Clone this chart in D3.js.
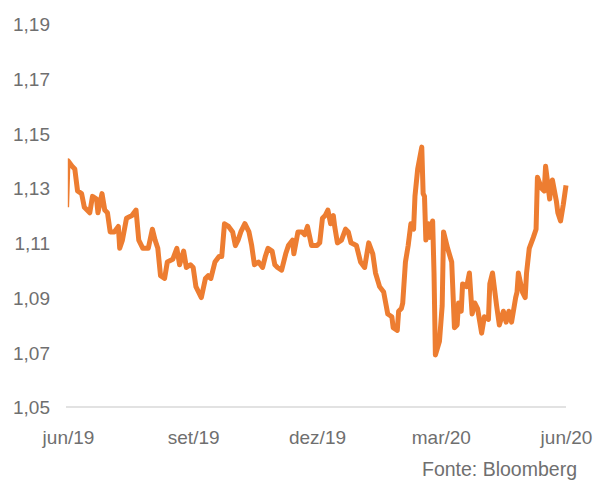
<!DOCTYPE html>
<html>
<head>
<meta charset="utf-8">
<script src="https://cdn.jsdelivr.net/npm/d3@7"></script>
<style>
  html, body { margin: 0; padding: 0; background: #fff; }
  svg { display: block; font-family: "Liberation Sans", Arial, Helvetica, sans-serif; }
</style>
</head>
<body>
<svg id="svg" width="597" height="482"></svg>
<script>
const dates = [
  "2019-05-31","2019-06-01","2019-06-04","2019-06-06","2019-06-08","2019-06-11","2019-06-13","2019-06-17",
  "2019-06-19","2019-06-22","2019-06-23","2019-06-26","2019-06-28","2019-06-30","2019-07-02","2019-07-05",
  "2019-07-08","2019-07-09","2019-07-11","2019-07-14","2019-07-18","2019-07-21","2019-07-23","2019-07-26",
  "2019-07-30","2019-08-02","2019-08-04","2019-08-06","2019-08-08","2019-08-11","2019-08-13","2019-08-17",
  "2019-08-20","2019-08-22","2019-08-25","2019-08-27","2019-08-30","2019-09-01","2019-09-03","2019-09-05",
  "2019-09-07","2019-09-10","2019-09-12","2019-09-14","2019-09-17","2019-09-20","2019-09-22","2019-09-24",
  "2019-09-27","2019-09-30","2019-10-02","2019-10-04","2019-10-06","2019-10-09","2019-10-12","2019-10-14",
  "2019-10-16","2019-10-19","2019-10-22","2019-10-24","2019-10-26","2019-10-29","2019-10-31","2019-11-02",
  "2019-11-05","2019-11-08","2019-11-10","2019-11-13","2019-11-14","2019-11-17","2019-11-20","2019-11-22",
  "2019-11-24","2019-11-27","2019-12-01","2019-12-03","2019-12-05","2019-12-07","2019-12-09","2019-12-11",
  "2019-12-13","2019-12-14","2019-12-16","2019-12-19","2019-12-22","2019-12-24","2019-12-26","2019-12-30",
  "2020-01-02","2020-01-05","2020-01-08","2020-01-11","2020-01-13","2020-01-16","2020-01-19","2020-01-22",
  "2020-01-25","2020-01-26","2020-01-29","2020-01-30","2020-02-01","2020-02-02","2020-02-04","2020-02-06",
  "2020-02-08","2020-02-10","2020-02-11","2020-02-13","2020-02-16","2020-02-17","2020-02-18","2020-02-19",
  "2020-02-21","2020-02-22","2020-02-24","2020-02-25","2020-02-26","2020-02-29","2020-03-02","2020-03-03",
  "2020-03-06","2020-03-09","2020-03-11","2020-03-13","2020-03-14","2020-03-16","2020-03-17","2020-03-20",
  "2020-03-22","2020-03-24","2020-03-26","2020-03-28","2020-03-31","2020-04-02","2020-04-05","2020-04-06",
  "2020-04-08","2020-04-11","2020-04-13","2020-04-16","2020-04-18","2020-04-20","2020-04-22","2020-04-25",
  "2020-04-26","2020-04-27","2020-04-30","2020-05-02","2020-05-03","2020-05-05","2020-05-08","2020-05-10",
  "2020-05-11","2020-05-14","2020-05-16","2020-05-17","2020-05-20","2020-05-21","2020-05-22","2020-05-25",
  "2020-05-26","2020-05-28","2020-05-30","2020-06-01"
];

const values = [
  1.123, 1.140, 1.138, 1.137, 1.129, 1.128, 1.123, 1.121,
  1.127, 1.126, 1.121, 1.128, 1.122, 1.121, 1.114, 1.114,
  1.116, 1.108, 1.111, 1.119, 1.120, 1.122, 1.111, 1.108,
  1.108, 1.115, 1.111, 1.108, 1.098, 1.097, 1.103, 1.104,
  1.108, 1.102, 1.107, 1.101, 1.102, 1.101, 1.094, 1.092,
  1.090, 1.097, 1.098, 1.097, 1.103, 1.105, 1.105, 1.117,
  1.116, 1.114, 1.109, 1.111, 1.114, 1.117, 1.114, 1.109,
  1.102, 1.103, 1.101, 1.105, 1.108, 1.107, 1.102, 1.101,
  1.100, 1.106, 1.109, 1.111, 1.106, 1.114, 1.114, 1.113,
  1.116, 1.109, 1.109, 1.110, 1.119, 1.120, 1.122, 1.117,
  1.120, 1.116, 1.110, 1.111, 1.115, 1.114, 1.110, 1.109,
  1.103, 1.101, 1.110, 1.106, 1.099, 1.094, 1.092, 1.084,
  1.083, 1.079, 1.078, 1.085, 1.086, 1.088, 1.103, 1.109,
  1.117, 1.115, 1.127, 1.137, 1.145, 1.128, 1.127, 1.111,
  1.117, 1.112, 1.118, 1.099, 1.069, 1.074, 1.087, 1.114,
  1.108, 1.103, 1.079, 1.080, 1.088, 1.085, 1.095, 1.094,
  1.099, 1.084, 1.088, 1.086, 1.077, 1.083, 1.082, 1.095,
  1.099, 1.087, 1.080, 1.085, 1.081, 1.085, 1.081, 1.090,
  1.092, 1.099, 1.092, 1.090, 1.099, 1.108, 1.112, 1.115,
  1.134, 1.130, 1.129, 1.138, 1.126, 1.131, 1.133, 1.125,
  1.121, 1.118, 1.124, 1.131
];

const yTicks = [1.05, 1.07, 1.09, 1.11, 1.13, 1.15, 1.17, 1.19];
const xTicks = ["2019-06-01", "2019-09-01", "2019-12-01", "2020-03-01", "2020-06-01"];
const xTickLabels = ["jun/19", "set/19", "dez/19", "mar/20", "jun/20"];
const source = "Fonte: Bloomberg";

const parse = d3.timeParse("%Y-%m-%d");
const data = dates.map((d, i) => ({ date: parse(d), value: values[i] }));

const svg = d3.select("#svg");

const x = d3.scaleTime()
    .domain([parse("2019-06-01"), parse("2020-06-01")])
    .range([68, 566]);

const y = d3.scaleLinear()
    .domain([1.05, 1.19])
    .range([407, 24]);

const textColor = "#6f6f6f";

// plot area clip (the first jump only shows as a sliver, like the original)
svg.append("defs").append("clipPath")
    .attr("id", "plot")
    .append("rect")
    .attr("x", 67.8).attr("y", 0)
    .attr("width", 530).attr("height", 482);

// baseline
svg.append("line")
    .attr("x1", 66).attr("x2", 566)
    .attr("y1", y(1.05)).attr("y2", y(1.05))
    .attr("stroke", "#d9d9d9")
    .attr("stroke-width", 1.5);

// y axis labels
const yAxis = d3.axisLeft(y)
    .tickValues(yTicks)
    .tickSize(0)
    .tickPadding(0)
    .tickFormat(d => d3.format(".2f")(d).replace(".", ","));

svg.append("g")
    .attr("transform", "translate(50,0)")
    .call(yAxis)
    .call(g => g.select(".domain").remove())
    .call(g => g.selectAll("text")
        .attr("fill", textColor)
        .attr("font-size", 19)
        .attr("font-family", null)
        .attr("dy", "0.36em"));

// x axis labels
const xAxis = d3.axisBottom(x)
    .tickValues(xTicks.map(parse))
    .tickSize(0)
    .tickPadding(0)
    .tickFormat((d, i) => xTickLabels[i]);

svg.append("g")
    .attr("transform", "translate(0,430)")
    .call(xAxis)
    .call(g => g.select(".domain").remove())
    .call(g => g.selectAll("text")
        .attr("fill", textColor)
        .attr("font-size", 19)
        .attr("font-family", null)
        .attr("dy", "0.71em"));

// line
const line = d3.line()
    .x(d => x(d.date))
    .y(d => y(d.value));

svg.append("path")
    .datum(data)
    .attr("clip-path", "url(#plot)")
    .attr("d", line)
    .attr("fill", "none")
    .attr("stroke", "#ed7d31")
    .attr("stroke-width", 5)
    .attr("stroke-linejoin", "round")
    .attr("stroke-linecap", "butt");

// source
svg.append("text")
    .attr("x", 577)
    .attr("y", 476)
    .attr("text-anchor", "end")
    .attr("fill", textColor)
    .attr("font-size", 19.5)
    .text(source);
</script>
</body>
</html>
